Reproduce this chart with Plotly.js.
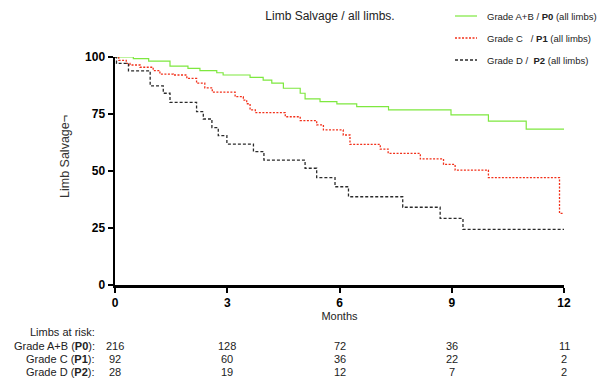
<!DOCTYPE html>
<html>
<head>
<meta charset="utf-8">
<script src="https://cdn.plot.ly/plotly-3.0.1.min.js"></script>
<style>html,body{margin:0;padding:0;background:#fff;}#chart{width:599px;height:381px;}</style>
</head>
<body>
<div id="chart"></div>
<script>
// ---- Data ----
const monthsP0 = [0, 0.49, 0.9, 1.47, 1.95, 2.27, 2.72, 2.89, 3.61, 3.96, 4.19, 4.5, 4.95, 5.08, 5.48, 5.93, 6.46, 7.31, 8.98, 9.98, 10.99, 12];
const salvageP0 = [100, 99.3, 98.2, 96.0, 95.0, 94.0, 93.1, 92.1, 91.1, 89.9, 88.5, 86.3, 84.1, 81.6, 80.4, 79.4, 78.2, 76.8, 74.6, 71.9, 68.4, 68.4];

const monthsP1 = [0, 0.1, 0.3, 0.4, 0.67, 1.02, 1.2, 1.56, 1.92, 2.18, 2.4, 2.6, 3.21, 3.43, 3.52, 3.61, 3.75, 4.55, 4.95, 5.39, 5.57, 6.1, 6.28, 7.09, 7.3, 8.16, 8.78, 9.09, 9.98, 11.88, 12];
const salvageP1 = [100, 98.5, 97.2, 96.5, 95.5, 94.0, 92.5, 92.1, 90.6, 88.5, 86.5, 84.6, 82.6, 81.1, 79.5, 76.8, 75.6, 73.8, 72.1, 70.2, 68.0, 65.8, 61.7, 59.6, 57.7, 55.3, 52.9, 50.4, 47.1, 31.4, 31.4];

const monthsP2 = [0, 0.04, 0.36, 0.94, 1.29, 1.47, 2.18, 2.36, 2.59, 2.76, 2.99, 3.70, 3.98, 5.08, 5.39, 5.88, 6.24, 7.69, 8.69, 9.3, 12];
const salvageP2 = [100, 97.2, 93.9, 87.3, 84.1, 80.1, 76.0, 72.8, 69.0, 65.5, 61.8, 58.5, 54.8, 51.2, 47.1, 43.1, 38.7, 34.1, 29.2, 24.4, 24.4];

const seriesNames = [
  "Grade A+B / <b>P0</b> (all limbs)",
  "Grade C\u00a0\u00a0\u00a0/ <b>P1</b> (all limbs)",
  "Grade D / \u00a0<b>P2</b> (all limbs)"
];

const xTicks = [0, 3, 6, 9, 12];
const yTicks = [0, 25, 50, 75, 100];

const riskHeader = "Limbs at risk:";
const riskLabels = ["Grade A+B (<b>P0</b>):", "Grade C (<b>P1</b>):", "Grade D (<b>P2</b>):"];
const riskP0 = [216, 128, 72, 36, 11];
const riskP1 = [92, 60, 36, 22, 2];
const riskP2 = [28, 19, 12, 7, 2];

// ---- Layout geometry ----
const W = 599, H = 381;
const M = {l: 115, r: 35, t: 57, b: 96};
const plotH = H - M.t - M.b;
const plotW = W - M.l - M.r;
function pyToPaper(py) { return (H - M.b - py) / plotH; }
function pxToPaper(px) { return (px - M.l) / plotW; }

const FONT = "Liberation Sans, Arial, sans-serif";

const styles = [
  {color: "#7ee83f", width: 1.2, dash: "solid"},
  {color: "#f2301a", width: 1.3, dash: "2px,1.5px"},
  {color: "#2a2a2a", width: 1.3, dash: "3px,2px"}
];
const seriesX = [monthsP0, monthsP1, monthsP2];
const seriesY = [salvageP0, salvageP1, salvageP2];

const traces = seriesX.map((xs, i) => ({
  type: "scatter", mode: "lines", x: xs, y: seriesY[i], name: seriesNames[i],
  hoverinfo: "skip", showlegend: false,
  line: {color: styles[i].color, width: styles[i].width, shape: "hv", dash: styles[i].dash}
}));

const annotations = [];
const shapes = [];

// legend (drawn by hand so it sits where the reference has it)
const legendY = [16, 38, 60];
seriesNames.forEach((nm, i) => {
  shapes.push({type: "line", xref: "paper", yref: "paper",
    x0: pxToPaper(455), x1: pxToPaper(477), y0: pyToPaper(legendY[i]), y1: pyToPaper(legendY[i]),
    line: {color: styles[i].color, width: styles[i].width, dash: styles[i].dash}});
  annotations.push({xref: "paper", yref: "paper", x: pxToPaper(485), y: pyToPaper(legendY[i]),
    xanchor: "left", yanchor: "middle", text: nm, showarrow: false,
    font: {family: FONT, size: 9.5, color: "#222"}});
});

// y-axis title
annotations.push({xref: "paper", yref: "paper", x: pxToPaper(65), y: pyToPaper(157),
  xanchor: "center", yanchor: "middle", textangle: -90, text: "Limb Salvage\u00ac", showarrow: false,
  font: {family: FONT, size: 12.5, color: "#333"}});

// number-at-risk table
const rowsY = [332, 346, 359, 372];
annotations.push({xref: "paper", yref: "paper", x: pxToPaper(97), y: pyToPaper(rowsY[0]),
  xanchor: "right", yanchor: "middle", text: riskHeader, showarrow: false,
  font: {family: FONT, size: 11, color: "#222"}});
const riskRows = [riskP0, riskP1, riskP2];
riskRows.forEach((row, i) => {
  annotations.push({xref: "paper", yref: "paper", x: pxToPaper(97), y: pyToPaper(rowsY[i + 1]),
    xanchor: "right", yanchor: "middle", text: riskLabels[i], showarrow: false,
    font: {family: FONT, size: 11, color: "#222"}});
  row.forEach((v, j) => {
    annotations.push({xref: "x", yref: "paper", x: xTicks[j], y: pyToPaper(rowsY[i + 1]),
      xanchor: "center", yanchor: "middle", text: String(v), showarrow: false,
      font: {family: FONT, size: 11, color: "#222"}});
  });
});

const layout = {
  width: W, height: H,
  margin: M,
  paper_bgcolor: "#fff", plot_bgcolor: "#fff",
  font: {family: FONT, color: "#222"},
  showlegend: false,
  title: {text: "Limb Salvage / all limbs.", xref: "paper", x: pxToPaper(330), xanchor: "center",
          yref: "container", y: 1 - 16 / H, yanchor: "middle",
          font: {family: FONT, size: 12, color: "#222"}},
  xaxis: {range: [0, 12], tickvals: xTicks, ticktext: xTicks.map(String),
          showline: true, linewidth: 2.5, linecolor: "#000", showgrid: false, zeroline: false,
          ticks: "outside", ticklen: 5, tickwidth: 2, tickcolor: "#000",
          tickfont: {family: FONT, size: 12, color: "#000", weight: "bold"},
          title: {text: "Months", font: {family: FONT, size: 11, color: "#222"}, standoff: 4},
          fixedrange: true},
  yaxis: {range: [0, 100], tickvals: yTicks, ticktext: yTicks.map(String),
          showline: true, linewidth: 2.5, linecolor: "#000", showgrid: false, zeroline: false,
          ticks: "outside", ticklen: 5, tickwidth: 2, tickcolor: "#000",
          tickfont: {family: FONT, size: 12, color: "#000", weight: "bold"},
          fixedrange: true},
  shapes: shapes,
  annotations: annotations
};

Plotly.newPlot("chart", traces, layout, {staticPlot: true, displayModeBar: false});
</script>
</body>
</html>
